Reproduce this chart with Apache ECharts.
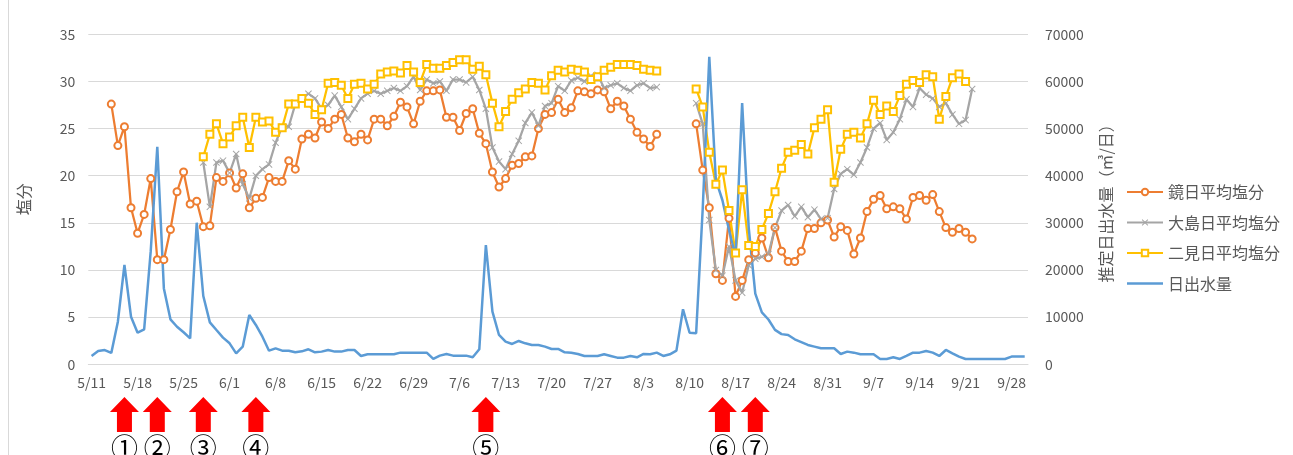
<!DOCTYPE html>
<html>
<head>
<meta charset="utf-8">
<script src="https://cdn.jsdelivr.net/npm/echarts@6.0.0/dist/echarts.min.js"></script>
<style>
  html, body { margin: 0; padding: 0; background: #fff; }
  #chart { width: 1293px; height: 455px; }
</style>
</head>
<body>
<div id="chart"></div>
<script>
// Daily categories from 5/11 through 9/30
const monthLengths = { 5: 31, 6: 30, 7: 31, 8: 31, 9: 30 };
const dates = [];
for (let m = 5, d = 11; m <= 9; ) {
  dates.push(m + '/' + d);
  d++;
  if (d > monthLengths[m]) { m++; d = 1; }
}

// 鏡 daily mean salinity
const kagami = [
  null, null, null,
  27.6, 23.2, 25.2, 16.6, 13.9, 15.9, 19.7, 11.1, 11.1, 14.3,
  18.3, 20.4, 17.0, 17.3, 14.6, 14.7, 19.8, 19.4, 20.3, 18.7,
  20.2, 16.6, 17.6, 17.7, 19.8, 19.4, 19.4, 21.6, 20.7, 23.9,
  24.4, 24.0, 25.7, 25.0, 26.0, 26.5, 24.0, 23.6, 24.4, 23.8,
  26.0, 26.0, 25.3, 26.3, 27.8, 27.3, 25.5, 27.9, 29.0, 29.0,
  29.1, 26.2, 26.2, 24.8, 26.6, 27.1, 24.5, 23.4, 20.4, 18.8,
  19.7, 21.1, 21.3, 22.0, 22.1, 25.0, 26.5, 26.7, 28.1, 26.7,
  27.2, 29.0, 28.9, 28.7, 29.1, 28.9, 27.1, 27.9, 27.4, 26.0,
  24.6, 23.9, 23.1, 24.4,
  null, null, null, null, null,
  25.5, 20.6, 16.6, 9.6, 8.9, 15.5, 7.2, 8.9, 11.1, 11.8,
  13.4, 11.3, 14.5, 12.0, 10.9, 10.9, 12.0, 14.4, 14.4, 15.0,
  15.3, 13.5, 14.6, 14.2, 11.7, 13.4, 16.2, 17.5, 17.9, 16.5,
  16.7, 16.5, 15.4, 17.7, 17.9, 17.4, 18.0, 16.2, 14.5, 14.0,
  14.4, 14.0, 13.3,
  null, null, null, null, null, null, null, null
];

// 大島 daily mean salinity
const oshima = [
  null, null, null, null, null, null, null, null, null, null,
  null, null, null, null, null, null, null,
  21.4, 16.7, 21.4, 21.6, 20.3, 22.3, 19.1, 17.6, 20.0, 20.7,
  21.2, 23.5, 25.2, 25.2, 27.6, 28.2, 28.7, 28.2, 27.1, 27.5,
  28.5, 27.3, 26.0, 27.1, 28.2, 28.7, 29.0, 28.7, 29.0, 29.3,
  29.0, 29.5, 30.5, 29.1, 30.2, 29.8, 30.0, 29.0, 30.2, 30.2,
  29.9, 30.5, 29.1, 27.1, 23.0, 21.5, 20.7, 22.3, 23.7, 25.6,
  26.7, 25.3, 27.4, 27.7, 29.5, 29.0, 30.1, 30.4, 30.0, 30.6,
  30.7, 29.3, 29.6, 29.8, 29.3, 29.0, 29.6, 29.8, 29.3, 29.4,
  null, null, null, null, null,
  27.7, 25.5, 15.3, 10.0, 9.4, 12.5, 8.9, 7.6, 10.5, 11.2,
  11.4, 11.7, 14.5, 16.3, 16.9, 15.7, 16.7, 15.6, 16.4, 15.4,
  15.5, 18.6, 20.2, 20.7, 20.1, 21.4, 23.0, 25.0, 25.6, 23.8,
  24.6, 26.0, 28.1, 27.3, 29.3, 28.6, 28.2, 27.3, 27.7, 26.5,
  25.5, 25.9, 29.2,
  null, null, null, null, null, null, null, null
];

// 二見 daily mean salinity
const futami = [
  null, null, null, null, null, null, null, null, null, null,
  null, null, null, null, null, null, null,
  22.0, 24.4, 25.5, 23.4, 24.1, 25.3, 26.2, 23.0, 26.2, 25.7,
  25.8, 24.6, 25.1, 27.6, 27.6, 28.2, 27.7, 26.5, 27.0, 29.8,
  29.9, 29.6, 28.2, 29.7, 29.8, 29.2, 29.7, 30.8, 31.0, 31.1,
  30.9, 31.7, 31.0, 29.9, 31.8, 31.4, 31.4, 31.7, 32.0, 32.3,
  32.3, 31.3, 31.6, 30.7, 27.7, 25.2, 26.8, 28.1, 28.8, 29.2,
  29.9, 29.8, 29.1, 30.6, 31.2, 31.0, 31.3, 31.2, 31.0, 30.2,
  30.5, 31.2, 31.5, 31.8, 31.8, 31.8, 31.7, 31.3, 31.2, 31.1,
  null, null, null, null, null,
  29.2, 27.3, 22.5, 19.1, 20.6, 16.3, 11.8, 18.5, 12.6, 12.5,
  14.3, 16.0, 18.3, 20.8, 22.5, 22.7, 23.3, 22.3, 25.1, 26.0,
  27.0, 19.3, 22.8, 24.4, 24.6, 24.0, 25.5, 28.0, 26.5, 27.4,
  26.8, 28.5, 29.7, 30.1, 29.9, 30.7, 30.5, 26.0, 28.4, 30.4,
  30.8, 30.0,
  null, null, null, null, null, null, null, null, null
];

// Estimated daily outflow (m3/day)
const outflow = [
  1760, 2820, 3030, 2400, 9040, 21060, 10100, 6700, 7420, 24000,
  46150, 16100, 9540, 7970, 6790, 5510, 30030, 14490, 8900, 7270,
  5650, 4450, 2330, 3730, 10460, 8340, 5850, 2890, 3390, 2890,
  2890, 2540, 2750, 3180, 2540, 2690, 3040, 2690, 2690, 3040,
  3040, 1770, 2120, 2120, 2120, 2120, 2120, 2470, 2470, 2470,
  2470, 2470, 1130, 1840, 2190, 1840, 1840, 1840, 1480, 3180,
  25300, 11170, 6220, 4810, 4310, 4950, 4450, 4100, 4100, 3750,
  3250, 3250, 2550, 2470, 2190, 1770, 1770, 1770, 2120, 1770,
  1410, 1410, 1770, 1480, 2190, 2120, 2470, 1770, 2120, 2900,
  11670, 6700, 6600, 33000, 65200, 39100, 34800, 28500, 22800, 55400,
  29000, 15000, 11000, 9500, 7300, 6400, 6200, 5300, 4700, 4100,
  3750, 3400, 3400, 3400, 2190, 2690, 2470, 2120, 2120, 2120,
  1130, 1130, 1480, 1130, 1770, 2470, 2470, 2830, 2470, 1770,
  3040, 2330, 1630, 1130, 1130, 1130, 1130, 1130, 1130, 1130,
  1630, 1630, 1630
];

// Outflow events marked under the date axis
const eventDays = ['5/16', '5/21', '5/28', '6/5', '7/10', '8/15', '8/20'];
const eventMarks = ['①', '②', '③', '④', '⑤', '⑥', '⑦'];

const seriesNames = ['鏡日平均塩分', '大島日平均塩分', '二見日平均塩分', '日出水量'];
const leftAxisName = '塩分';
const rightAxisName = '推定日出水量（㎥/日）';

const FONT = "'Noto Sans CJK JP', 'Noto Sans', sans-serif";
const TEXT_GREY = '#595959';
const GRID_GREY = '#D9D9D9';
const CROSS = 'path://M1,0L5,4L9,0L10,1L6,5L10,9L9,10L5,6L1,10L0,9L4,5L0,1Z';
const PLAIN_LINE = 'path://M0,0L36,0L36,2.6L0,2.6Z';

const chart = echarts.init(document.getElementById('chart'));

function salinityLine(name, data, color, symbol, symbolSize, filled) {
  return {
    name: name,
    type: 'line',
    yAxisIndex: 0,
    data: data,
    symbol: symbol,
    symbolSize: symbolSize,
    showAllSymbol: true,
    connectNulls: false,
    lineStyle: { width: 2.25, color: color },
    itemStyle: filled
      ? { color: color, borderWidth: 0 }
      : { color: color, borderColor: color, borderWidth: 1.2 },
    emphasis: { disabled: true }
  };
}

chart.setOption({
  animation: false,
  textStyle: { fontFamily: FONT },
  grid: { left: 88.3, right: 265, top: 34.3, bottom: 90.7, containLabel: false },
  legend: {
    orient: 'vertical',
    left: 1121,
    top: 179,
    itemWidth: 36,
    itemHeight: 8,
    itemGap: 14.5,
    selectedMode: false,
    textStyle: { fontSize: 16, color: TEXT_GREY, fontFamily: FONT },
    data: [
      seriesNames[0],
      seriesNames[1],
      seriesNames[2],
      { name: seriesNames[3], icon: PLAIN_LINE }
    ]
  },
  xAxis: {
    type: 'category',
    data: dates,
    boundaryGap: true,
    axisLine: { lineStyle: { color: GRID_GREY, width: 1 } },
    axisTick: { interval: 6, length: 5, lineStyle: { color: GRID_GREY } },
    axisLabel: { interval: 6, color: TEXT_GREY, fontSize: 14, margin: 11, fontFamily: FONT },
    splitLine: { show: false }
  },
  yAxis: [
    {
      type: 'value', min: 0, max: 35, interval: 5,
      name: leftAxisName, nameLocation: 'middle', nameRotate: 90, nameGap: 56,
      nameTextStyle: { fontSize: 16, color: TEXT_GREY, fontFamily: FONT },
      axisLine: { show: false }, axisTick: { show: false },
      axisLabel: { color: TEXT_GREY, fontSize: 14, margin: 13, fontFamily: FONT },
      splitLine: { lineStyle: { color: GRID_GREY, width: 1 } }
    },
    {
      type: 'value', min: 0, max: 70000, interval: 10000, position: 'right',
      name: rightAxisName, nameLocation: 'middle', nameRotate: 90, nameGap: 70,
      nameTextStyle: { fontSize: 16, color: TEXT_GREY, fontFamily: FONT },
      axisLine: { show: false }, axisTick: { show: false },
      axisLabel: {
        color: TEXT_GREY, fontSize: 14, margin: 17, fontFamily: FONT,
        formatter: function (v) { return String(v); }
      },
      splitLine: { show: false }
    }
  ],
  series: [
    salinityLine(seriesNames[0], kagami, '#ED7D31', 'emptyCircle', 7, false),
    salinityLine(seriesNames[1], oshima, '#A5A5A5', CROSS, 7, true),
    salinityLine(seriesNames[2], futami, '#FFC000', 'emptyRect', 7, false),
    {
      name: seriesNames[3],
      type: 'line',
      yAxisIndex: 1,
      data: outflow,
      symbol: 'none',
      lineStyle: { width: 2.5, color: '#5B9BD5' },
      itemStyle: { color: '#5B9BD5' },
      emphasis: { disabled: true }
    }
  ]
});

// Red arrows with circled numbers beneath the event dates
const graphics = [{
  type: 'line',
  shape: { x1: 8.5, y1: 0, x2: 8.5, y2: 455 },
  style: { stroke: GRID_GREY, lineWidth: 1 },
  silent: true
}];
eventDays.forEach(function (day, k) {
  const x = chart.convertToPixel({ xAxisIndex: 0 }, day);
  graphics.push({
    type: 'polygon',
    shape: {
      points: [
        [x, 397], [x + 14.5, 412], [x + 7.5, 412], [x + 7.5, 432],
        [x - 7.5, 432], [x - 7.5, 412], [x - 14.5, 412]
      ]
    },
    style: { fill: '#FF0000' },
    silent: true
  });
  graphics.push({
    type: 'text',
    x: x,
    y: 448,
    style: {
      text: eventMarks[k],
      fill: '#000',
      font: '27px ' + FONT,
      textAlign: 'center',
      textVerticalAlign: 'middle'
    },
    silent: true
  });
});
chart.setOption({ graphic: graphics });
</script>
</body>
</html>
